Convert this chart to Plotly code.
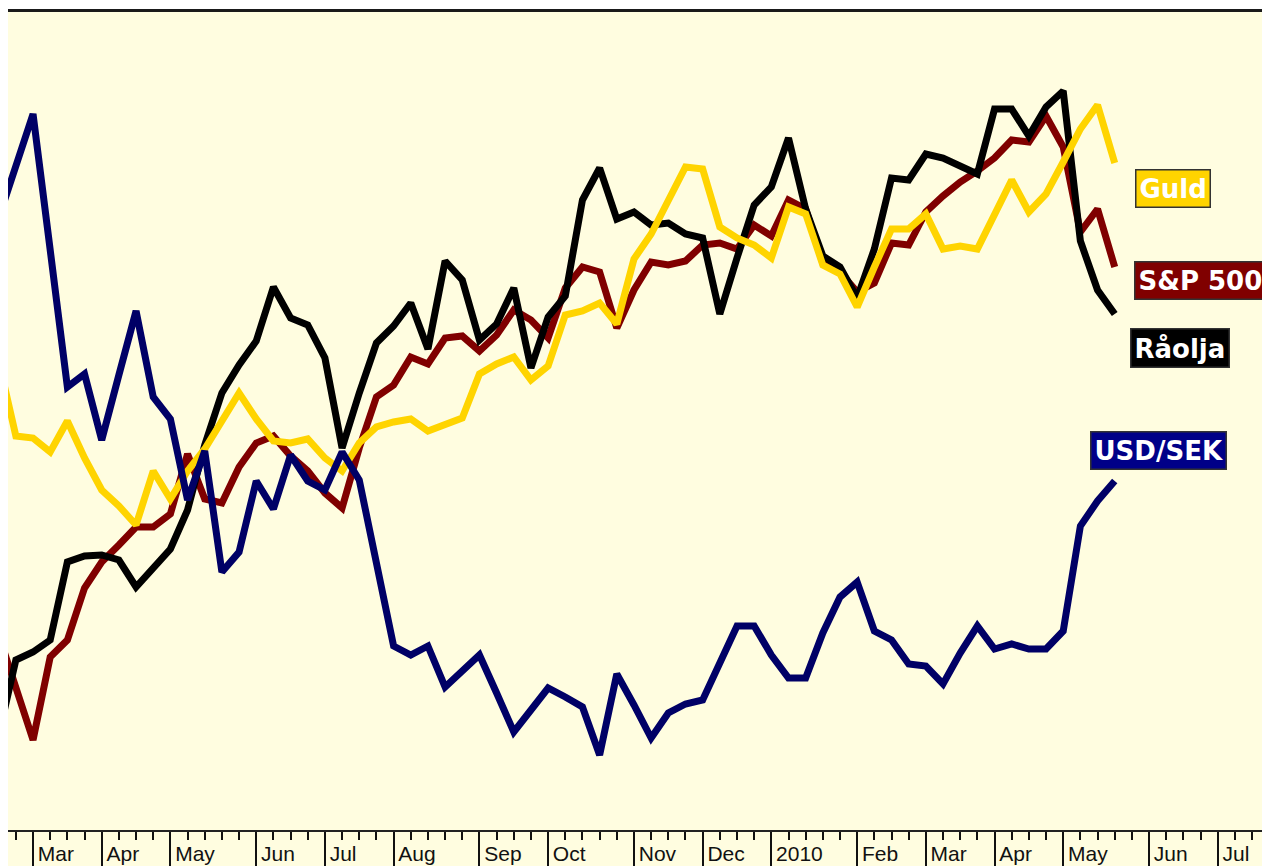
import plotly.graph_objects as go
import pandas as pd

# Weekly observations (index of week, first point = week of 20 Feb 2009)
weeks = list(range(66))
week_dates = [d.strftime("%Y-%m-%d") for d in pd.date_range("2009-02-20", periods=66, freq="7D")]

# Month boundaries on the weekly axis and their labels
month_ticks = [2, 6, 10, 15, 19, 23, 28, 32, 37, 41, 45, 50, 54, 58, 62, 67, 71]
month_labels = ["Mar", "Apr", "May", "Jun", "Jul", "Aug", "Sep", "Oct", "Nov", "Dec",
                "2010", "Feb", "Mar", "Apr", "May", "Jun", "Jul"]
minor_ticks = list(range(0, 76))

# Relative index levels
usd_sek = [61.3, 66.6, 71.7, 58.1, 44.4, 45.7, 39.1, 45.6, 52.0, 43.4,
           41.2, 33.1, 38.0, 25.9, 27.9, 35.0, 32.2, 37.6, 35.0, 34.1,
           37.9, 35.1, 26.6, 18.5, 17.6, 18.5, 14.4, 16.1, 17.6, 13.8,
           9.9, 12.1, 14.3, 13.4, 12.4, 7.6, 15.7, 12.6, 9.3, 11.8,
           12.7, 13.1, 16.7, 20.5, 20.5, 17.6, 15.3, 15.3, 19.8, 23.4,
           24.9, 20.0, 19.1, 16.7, 16.5, 14.7, 17.8, 20.5, 18.2, 18.7,
           18.2, 18.2, 20.0, 30.5, 33.0, 35.0]

guld = [47.0, 39.5, 39.3, 37.9, 41.0, 37.3, 34.1, 32.5, 30.6, 36.0,
        33.2, 36.0, 38.2, 41.1, 43.8, 41.2, 39.0, 38.8, 39.2, 37.3,
        36.0, 38.8, 40.4, 40.9, 41.2, 40.0, 40.6, 41.3, 45.7, 46.7,
        47.4, 45.1, 46.5, 51.6, 52.0, 52.8, 50.7, 57.2, 59.7, 63.1,
        66.4, 66.2, 60.4, 59.3, 58.6, 57.3, 62.4, 61.7, 56.6, 55.7,
        52.4, 56.4, 60.2, 60.2, 61.7, 58.2, 58.5, 58.2, 61.7, 65.1,
        61.9, 63.7, 66.9, 70.2, 72.6, 66.8]

sp500 = [19.6, 14.1, 9.1, 17.4, 19.1, 24.3, 26.9, 28.6, 30.4, 30.4,
         31.7, 37.7, 33.2, 32.8, 36.4, 38.8, 39.5, 37.5, 36.0, 33.8,
         32.3, 38.3, 43.4, 44.6, 47.4, 46.7, 49.3, 49.5, 48.0, 49.6,
         52.1, 51.1, 49.3, 54.3, 56.4, 55.9, 50.3, 54.1, 56.9, 56.6,
         57.0, 58.6, 58.8, 58.2, 60.6, 59.5, 63.1, 62.2, 56.8, 55.9,
         53.9, 54.8, 58.8, 58.6, 61.9, 63.5, 64.9, 66.0, 67.3, 69.1,
         68.9, 71.5, 68.4, 59.9, 62.2, 56.4]

raolja = [9.6, 17.1, 17.9, 19.1, 26.9, 27.5, 27.6, 27.1, 24.4, 26.4,
          28.2, 32.1, 38.6, 43.8, 46.6, 49.0, 54.4, 51.3, 50.6, 47.3,
          38.3, 43.8, 48.8, 50.5, 52.8, 48.2, 57.0, 55.1, 49.1, 50.7,
          54.3, 46.3, 51.4, 53.5, 63.1, 66.3, 61.2, 61.9, 60.6, 60.8,
          59.7, 59.3, 51.7, 57.3, 62.6, 64.4, 69.3, 62.2, 57.5, 56.4,
          53.3, 58.2, 65.3, 65.1, 67.7, 67.3, 66.5, 65.7, 72.2, 72.2,
          69.5, 72.4, 74.0, 59.0, 54.1, 51.7]

series = [
    ("S&P 500", sp500, "#800000"),
    ("Råolja", raolja, "#000000"),
    ("Guld", guld, "#FFD400"),
    ("USD/SEK", usd_sek, "#000066"),
]

fig = go.Figure()
for name, vals, color in series:
    fig.add_trace(go.Scatter(
        x=weeks, y=vals, mode="lines", name=name, customdata=week_dates,
        hovertemplate="%{customdata}: %{y}<extra>" + name + "</extra>",
        line=dict(color=color, width=7), showlegend=False,
    ))

# Labels at the right end of the series
label_specs = [
    ("Guld", 66.18, 64.3, "#FFD400"),
    ("S&P 500", 66.12, 55.1, "#800000"),
    ("Råolja", 65.89, 48.3, "#000000"),
    ("USD/SEK", 63.56, 38.1, "#000088"),
]
annotations = []
for text, ax, ay, bg in label_specs:
    annotations.append(dict(
        x=ax, y=ay, xref="x", yref="y", xanchor="left", yanchor="middle",
        text="<b>" + text + "</b>", showarrow=False,
        font=dict(family="DejaVu Sans, sans-serif", size=26, color="white"),
        bgcolor=bg, bordercolor="#333333", borderwidth=1.5, borderpad=3,
    ))

# the page body adds an 8 px offset; the figure runs past the right edge of the window
plot_h = 858 - 4
fig.update_layout(
    width=1270, height=858,
    margin=dict(l=0, r=0, t=4, b=0, pad=0),
    paper_bgcolor="white",
    plot_bgcolor="#FFFDE0",
    showlegend=False,
    annotations=annotations,
    xaxis=dict(
        range=[0.542, 74.51], anchor="free", position=35 / plot_h,
        showgrid=False, zeroline=False, automargin=False,
        showline=True, linecolor="#222222", linewidth=2,
        ticks="outside", tickvals=month_ticks, ticktext=month_labels,
        ticklen=35, tickwidth=1.5, tickcolor="#111111",
        ticklabelposition="outside right", ticklabelstandoff=4, ticklabelshift=3,
        tickfont=dict(family="Liberation Sans, Arial, sans-serif", size=21, color="#111111"),
        minor=dict(tickvals=minor_ticks, ticks="outside", ticklen=8,
                   tickwidth=1.5, tickcolor="#111111", showgrid=False),
    ),
    yaxis=dict(range=[-3.5, 81.9], visible=False, showgrid=False, zeroline=False),
    shapes=[dict(type="line", xref="paper", yref="paper", x0=0, x1=1,
                 y0=1 + 1.5 / plot_h, y1=1 + 1.5 / plot_h,
                 line=dict(color="#1a1a1a", width=3))],
)

fig.write_html(
    "out.html",
    post_script="document.documentElement.style.overflow='hidden';"
                "document.body.style.overflow='hidden';",
)
